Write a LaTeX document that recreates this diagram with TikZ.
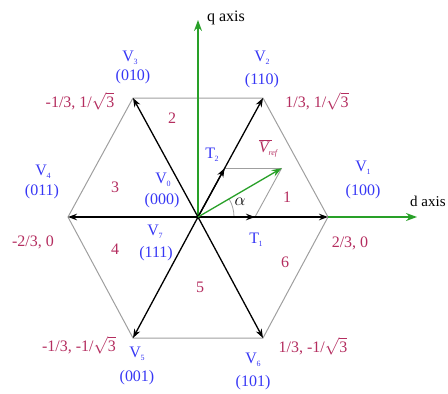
\documentclass[tikz,border=0pt]{standalone}
\usepackage{fontspec}
\setmainfont{Liberation Serif}
\usetikzlibrary{arrows.meta,calc}
\definecolor{lblue}{RGB}{55,55,245}
\definecolor{lred}{RGB}{180,45,95}
\definecolor{agreen}{RGB}{40,160,40}
\newcommand\Vsub[1]{V\kern-0.3pt\raisebox{-3pt}{\fontsize{8}{8}\selectfont #1}}
\newcommand\rtthree{$\sqrt{\mbox{3}}$}
\tikzset{
  txt/.style={inner sep=0pt, font=\fontsize{16}{17}\selectfont},
  vlab/.style={txt, text=lblue},
  clab/.style={txt, text=lred, anchor=base},
  hexe/.style={draw=gray!75, line width=1pt},
  vec/.style={draw=black, line width=1.3pt, -{Stealth[length=9pt,width=6.5pt]}},
  axe/.style={draw=agreen, line width=1.3pt, -{Stealth[length=11pt,width=8pt]}},
  thin gray/.style={draw=gray!75, line width=0.9pt},
}
\begin{document}
\begin{tikzpicture}[x=1pt,y=-1pt]
\useasboundingbox (0,0) rectangle (448,394);
\clip (0,0) rectangle (448,394);
% vertices
\coordinate (O) at (198,217);
\coordinate (V1) at (328,217);
\coordinate (V2) at (263,98);
\coordinate (V3) at (133,98);
\coordinate (V4) at (68,217);
\coordinate (V5) at (133,338);
\coordinate (V6) at (263,338);
\coordinate (T1) at (255,217);
\coordinate (T2) at (224.65,168.2);
\coordinate (Vr) at (281.65,168.2);
\coordinate (Q) at (198,20);
\coordinate (D) at (417,217);
\coordinate (A0) at (234,217);
% hexagon
\draw[hexe] (V1) -- (V2) -- (V3) -- (V4) -- (V5) -- (V6) -- cycle;
% axes
\draw[axe] (O) -- (Q);
\draw[axe] (V1) -- (D);
% parallelogram helpers
\draw[thin gray] (T2) -- (Vr);
\draw[thin gray] (T1) -- (Vr);
% angle arc
\draw[gray!75, line width=0.8pt] (A0) arc[start angle=0, end angle=-30.2, radius=36];
% space vectors
\foreach \v in {V1,V2,V3,V4,V5,V6} \draw[vec] (O) -- (\v);
\draw[vec] (O) -- (T1);
\draw[vec] (O) -- (T2);
\draw[axe, -{Stealth[length=10pt,width=7pt]}] (O) -- (Vr);
% axis labels
\node[txt, anchor=base] (ql) at (226,21) {q axis};
\node[txt, anchor=base west, font=\fontsize{15}{16}\selectfont] (dl) at (410,206) {d axis};
% vector labels
\node[vlab] (l3) at (130,58) {\Vsub{3}};
\node[vlab] (c3) at (133,77) {(010)};
\node[vlab] (l2) at (262,58) {\Vsub{2}};
\node[vlab] (c2) at (262,81) {(110)};
\node[vlab] (l1) at (363,168) {\Vsub{1}};
\node[vlab] (c1) at (363,192) {(100)};
\node[vlab] (l4) at (43,172) {\Vsub{4}};
\node[vlab] (c4) at (42,192) {(011)};
\node[vlab] (l0) at (163,180) {\Vsub{0}};
\node[vlab] (c0) at (162,201) {(000)};
\node[vlab] (l7) at (155,232) {\Vsub{7}};
\node[vlab] (c7) at (156,254) {(111)};
\node[vlab] (l5) at (137,354) {\Vsub{5}};
\node[vlab] (c5) at (137,378) {(001)};
\node[vlab] (l6) at (253,360) {\Vsub{6}};
\node[vlab] (c6) at (253,383) {(101)};
\node[vlab] (t2) at (212,155) {T\kern-0.5pt\raisebox{-3pt}{\fontsize{8}{8}\selectfont 2}};
\node[vlab] (t1) at (256,240) {T\kern-0.5pt\raisebox{-3pt}{\fontsize{8}{8}\selectfont 1}};
% coordinates
\node[clab] (p3) at (80,107.5) {-1/3, 1/\rtthree};
\node[clab] (p2) at (317,107.5) {1/3, 1/\rtthree};
\node[clab] (p4) at (33,246.5) {-2/3, 0};
\node[clab] (p1) at (350,247.5) {2/3, 0};
\node[clab] (p5) at (79,351.5) {-1/3, -1/\rtthree};
\node[clab] (p6) at (313,352.5) {1/3, -1/\rtthree};
% sectors
\node[clab] (s1) at (287,202.5) {1};
\node[clab] (s2) at (172,123.5) {2};
\node[clab] (s3) at (115,192.5) {3};
\node[clab] (s4) at (115,254.5) {4};
\node[clab] (s5) at (200,292.5) {5};
\node[clab] (s6) at (285,267.5) {6};
% alpha and Vref
\node[txt] (al) at (240,202) {$\alpha$};
\node[txt, text=lred, anchor=base] (vref) at (268,152) {$\overline{\mbox{\itshape V\kern3pt}}$\kern-3pt\raisebox{-3pt}{\fontsize{8}{8}\selectfont\itshape ref}};
\end{tikzpicture}
\end{document}
